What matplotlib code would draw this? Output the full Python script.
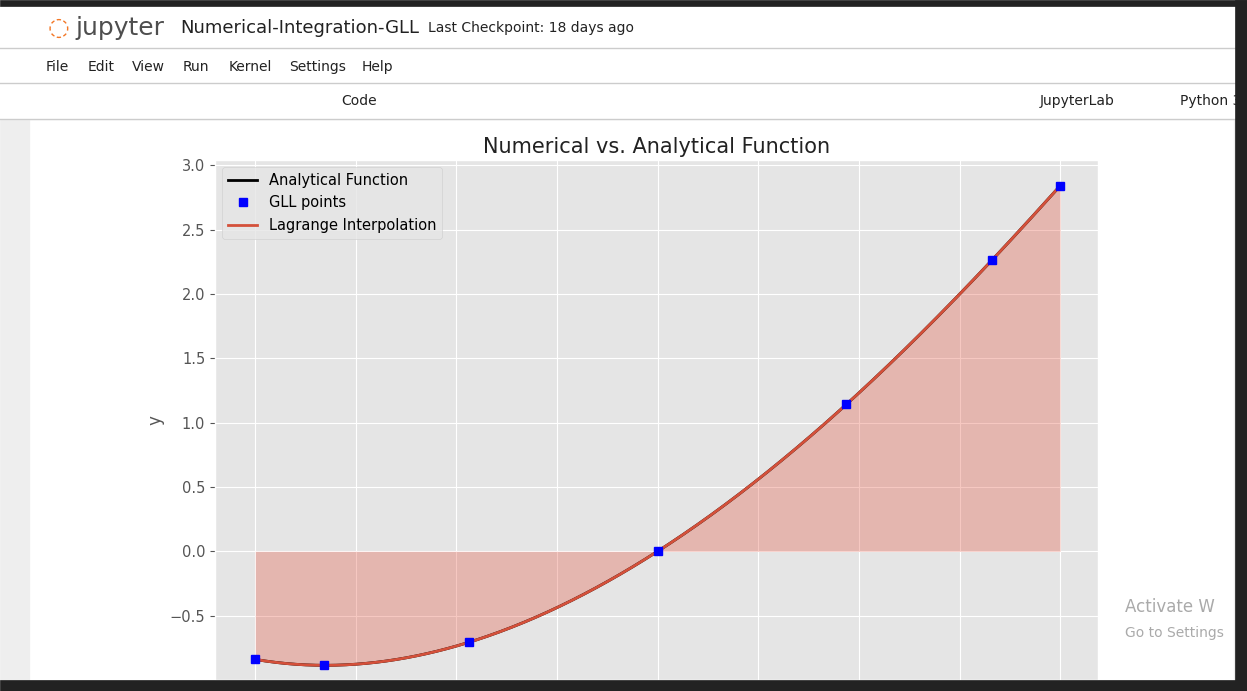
import numpy as np
import matplotlib
matplotlib.use("Agg")
import matplotlib.pyplot as plt
from matplotlib.patches import Rectangle

gll_x = [-1.0, -0.830, -0.469, 0.0, 0.469, 0.830, 1.0]
gll_y = [-0.84, -0.886, -0.707, 0.0, 1.142, 2.26, 2.84]
menu_items = ["File", "Edit", "View", "Run", "Kernel", "Settings", "Help"]

plt.style.use("ggplot")
W, H = 1247, 691
fig = plt.figure(figsize=(W/100, H/100), dpi=100)
fig.patch.set_facecolor("white")

def px(x, y):
    return x / W, 1 - y / H

# UI chrome
fig.patches.append(Rectangle((0, 0), 1, 1 - 120/H, transform=fig.transFigure, color="#eeeeee", zorder=-2))
fig.patches.append(Rectangle(px(30, 680), (1233-30)/W, (680-120)/H, transform=fig.transFigure, color="white", zorder=-1))
for yy in (48, 83, 119):
    fig.lines.append(plt.Line2D([0, 1], [1-yy/H]*2, transform=fig.transFigure, color="#cccccc", lw=1))
fig.text(*px(75, 28), "jupyter", fontsize=18, color="#4e4e4e", va="center")
fig.text(*px(48, 28), "◌", fontsize=18, color="#f37726", va="center")
fig.text(*px(180, 28), "Numerical-Integration-GLL", fontsize=13, color="#222222", va="center")
fig.text(*px(428, 28), "Last Checkpoint: 18 days ago", fontsize=10, color="#222222", va="center")
xs = [46, 88, 132, 183, 229, 289, 362]
for x, m in zip(xs, menu_items):
    fig.text(*px(x, 67), m, fontsize=10, color="#222222", va="center")
fig.text(*px(341, 101), "Code", fontsize=10, color="#222222", va="center")
fig.text(*px(1040, 101), "JupyterLab", fontsize=10, color="#222222", va="center")
fig.text(*px(1180, 101), "Python 3", fontsize=10, color="#222222", va="center")
fig.text(*px(1125, 607), "Activate W", fontsize=12, color="#aaaaaa", va="center")
fig.text(*px(1125, 633), "Go to Settings", fontsize=10, color="#aaaaaa", va="center")

# Plot
l, r, t, b = 215, 1098, 160, 680
ax = fig.add_axes([l/W, 1-b/H, (r-l)/W, (b-t)/H])
ax.set_zorder(2)
coef = np.polyfit(gll_x, gll_y, 6)
xf = np.linspace(-1, 1, 400)
yf = np.polyval(coef, xf)
ax.plot(xf, yf, color="black", lw=2, label="Analytical Function")
ax.plot(gll_x, gll_y, "s", color="blue", markersize=6, label="GLL points", zorder=4)
ax.plot(xf, yf, color="#D4503A", lw=2, label="Lagrange Interpolation")
ax.fill_between(xf, yf, 0, color="#E24A33", alpha=0.3, lw=0)
ax.set_xlim(-1.1, 1.094)
ax.set_ylim(-1.0, 3.04)
ax.set_xticks(np.arange(-1, 1.01, 0.25))
ax.set_xticklabels([])
ax.set_yticks(np.arange(-0.5, 3.01, 0.5))
ax.tick_params(axis="y", labelsize=10.5)
ax.set_ylabel("y", fontsize=12)
ax.set_title("Numerical vs. Analytical Function", fontsize=15, pad=5, color="#222222")
ax.legend(loc="upper left", fontsize=10.5, facecolor="#e5e5e5", framealpha=0.8)

for rect in [(0, 0, 1, 11/H), (1235/W, 0, 12/W, 1), (0, 1-6/H, 1, 6/H)]:
    fig.add_artist(Rectangle(rect[:2], rect[2], rect[3], transform=fig.transFigure, color="#222222", zorder=10))

fig.savefig("out.png", dpi=100)
